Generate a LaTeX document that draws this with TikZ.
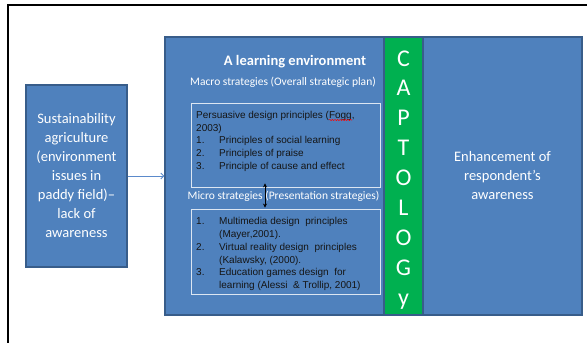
\documentclass[tikz,border=0pt]{standalone}
\usepackage{fontspec}
\setmainfont{Carlito}
\newfontfamily\arialish{Liberation Sans}
\usetikzlibrary{arrows.meta,calc,decorations.pathmorphing}

\definecolor{boxblue}{HTML}{4F81BD}
\definecolor{edgeblue}{HTML}{385D8A}
\definecolor{captgreen}{HTML}{00B050}
\definecolor{paleline}{HTML}{DCE6F2}
\definecolor{flowblue}{HTML}{5B8ACB}
\definecolor{inktext}{HTML}{151515}

\begin{document}
\begin{tikzpicture}[x=1pt,y=-1pt,
  bluebox/.style={draw=edgeblue, line width=1.2pt, fill=boxblue, inner sep=0pt},
  greenbox/.style={draw=edgeblue, line width=1.2pt, fill=captgreen, inner sep=0pt},
  subbox/.style={draw=paleline, line width=0.9pt, inner sep=0pt},
  bigtext/.style={text=white, font=\fontsize{14.5pt}{19pt}\selectfont, align=center},
  midtext/.style={text=white, font=\fontsize{11.5pt}{14pt}\selectfont, inner sep=0pt},
  listtext/.style={text=inktext, font=\arialish\fontsize{10pt}{12.75pt}\selectfont, align=left, inner sep=0pt, anchor=north west},
  captletter/.style={text=white, font=\fontsize{24pt}{28pt}\selectfont, inner sep=0pt, anchor=base},
  flow/.style={draw=flowblue, line width=0.9pt, -{Straight Barb[length=3pt,width=6pt]}},
  twoway/.style={draw=black, line width=0.8pt, {Stealth[length=4pt,width=4pt]}-{Stealth[length=4pt,width=4pt]}}
]
\useasboundingbox (0,0) rectangle (587,343);

% page frame
\draw[line width=2pt] (7.8,343) -- (7.8,5) -- (587,5);

% problem statement
\node[bluebox, bigtext, minimum width=101pt, minimum height=182pt] (issue) at (76.5,176)
  {Sustainability\\agriculture\\(environment\\issues in\\paddy field)–\\lack of\\awareness};

% main blocks
\node[bluebox, minimum width=219pt, minimum height=278pt] (env) at (274.5,176) {};
\node[greenbox, minimum width=39pt, minimum height=278pt] (capt) at (403.5,176) {};
\node[bluebox, bigtext, minimum width=159pt, minimum height=278pt] (aware) at (502.5,176)
  {Enhancement of\\respondent’s\\awareness};

% learning environment contents
\node[text=white, font=\bfseries\fontsize{14.5pt}{17pt}\selectfont, inner sep=0pt] (title) at (295,62) {A learning environment};
\node[midtext] (macrolbl) at (283,82) {Macro strategies (Overall strategic plan)};

\node[subbox, minimum width=189pt, minimum height=84pt] (macro) at (285.5,145) {};
\node[listtext] (macrotxt) at (196,111)
  {Persuasive design principles (Fogg,\\
   2003)\\
   \makebox[23pt][l]{1.}Principles of social learning\\
   \makebox[23pt][l]{2.}Principles of praise\\
   \makebox[23pt][l]{3.}Principle of cause and effect};
\draw[red, line width=0.5pt, decorate, decoration={snake, amplitude=0.6pt, segment length=2.6pt}]
  (329,120) -- (352,120);

\node[midtext] (microlbl) at (283.5,196) {Micro strategies (Presentation strategies)};

\node[subbox, minimum width=189pt, minimum height=85pt] (micro) at (285.5,251.5) {};
\node[listtext] (microtxt) at (196,217.5)
  {\makebox[23pt][l]{1.}Multimedia design\ \ principles\\
   \hspace*{23pt}(Mayer,2001).\\
   \makebox[23pt][l]{2.}Virtual reality design\ \ principles\\
   \hspace*{23pt}(Kalawsky, (2000).\\
   \makebox[23pt][l]{3.}Education games design\ \ for\\
   \hspace*{23pt}learning (Alessi\ \ \& Trollip, 2001)};

% CAPTOLOGY column
\foreach \ch [count=\i] in {C,A,P,T,O,L,O,G,y}
  \node[captletter] (cap\i) at (403.5,{66+29.9*(\i-1)}) {\ch};

% connectors
\draw[flow] (issue.east) -- (env.west);
\draw[twoway] ($(macro.south)+(-20.5,-4)$) -- ($(micro.north)+(-20.5,-1)$);
\end{tikzpicture}
\end{document}
